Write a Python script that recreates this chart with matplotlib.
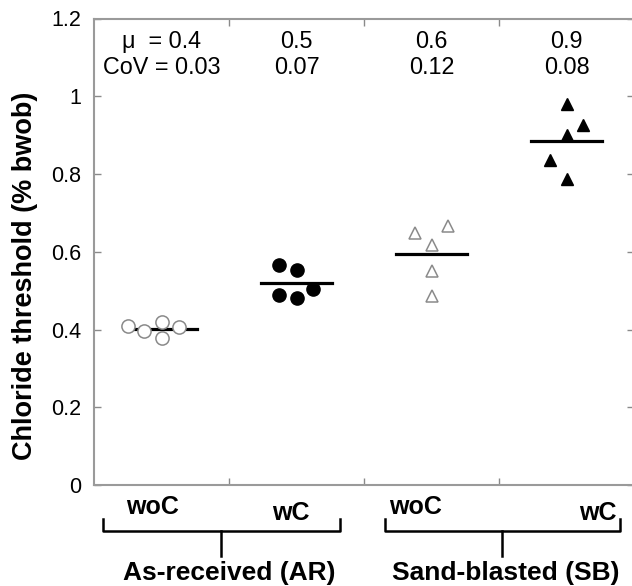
import matplotlib.pyplot as plt
from matplotlib.transforms import blended_transform_factory

plt.rcParams['font.family'] = ['Liberation Sans', 'DejaVu Sans']

# chloride threshold values (% bwob), five specimens per group
ar_woc = [0.409, 0.396, 0.420, 0.379, 0.407]
ar_wc = [0.565, 0.554, 0.490, 0.482, 0.503]
sb_woc = [0.647, 0.665, 0.617, 0.551, 0.486]
sb_wc = [0.981, 0.925, 0.901, 0.837, 0.786]

# horizontal jitter of points inside each group
ar_woc_dx = [-0.25, -0.13, 0.0, 0.0, 0.13]
ar_wc_dx = [-0.13, 0.0, -0.13, 0.0, 0.12]
sb_woc_dx = [-0.125, 0.125, 0.0, 0.0, 0.0]
sb_wc_dx = [0.0, 0.125, 0.0, -0.125, 0.0]

mu_labels = ['\u03bc  = 0.4', '0.5', '0.6', '0.9']
cov_labels = ['CoV = 0.03', '0.07', '0.12', '0.08']
sub_labels = ['woC', 'wC', 'woC', 'wC']
group_labels = ['As-received (AR)', 'Sand-blasted (SB)']

fig = plt.figure(figsize=(6.32, 5.86), dpi=100)
ax = fig.add_axes([94 / 632, 101 / 586, 540 / 632, 466.5 / 586])

centers = [0.5, 1.5, 2.5, 3.5]
groups = [ar_woc, ar_wc, sb_woc, sb_wc]
offsets = [ar_woc_dx, ar_wc_dx, sb_woc_dx, sb_wc_dx]
styles = [
    dict(marker='o', mfc='white', mec='#8a8a8a', ms=9.5, mew=1.1),
    dict(marker='o', mfc='black', mec='black', ms=9.5, mew=1),
    dict(marker='^', mfc='white', mec='#8a8a8a', ms=9, mew=1.1),
    dict(marker='^', mfc='black', mec='black', ms=9, mew=1),
]

for c, vals, dx, st in zip(centers, groups, offsets, styles):
    xs = [c + d for d in dx]
    mean = sum(vals) / len(vals)
    ax.plot([c - 0.26, c + 0.26], [mean, mean], color='black', lw=2.3, zorder=2)
    ax.plot(xs, vals, ls='none', zorder=3, **st)

for c, m, cv in zip(centers, mu_labels, cov_labels):
    ax.text(c, 1.14, m, ha='center', va='center', fontsize=16.8)
    ax.text(c, 1.075, cv, ha='center', va='center', fontsize=16.8)

ax.set_xlim(0, 4)
ax.set_ylim(0, 1.2)
ax.set_xticks([1, 2, 3])
ax.set_xticklabels([])
ax.set_yticks([0, 0.2, 0.4, 0.6, 0.8, 1.0, 1.2])
ax.set_yticklabels(['0', '0.2', '0.4', '0.6', '0.8', '1', '1.2'])
ax.tick_params(direction='in', top=True, right=True, length=5, width=1,
               color='#8a8a8a', labelsize=15.5, pad=9)
for s in ax.spines.values():
    s.set_color('#9a9a9a')
    s.set_linewidth(1.5)

ax.set_ylabel('Chloride threshold (% bwob)', fontsize=19.5, fontweight='bold')
ax.yaxis.set_label_coords(-0.103, 0.448)

# labels and brackets below the axis
tr = blended_transform_factory(ax.transData, ax.transAxes)
sub_y = [-0.047, -0.06, -0.047, -0.06]
sub_x = [0.43, 1.46, 2.385, 3.733]
for x, y, s in zip(sub_x, sub_y, sub_labels):
    ax.text(x, y, s, transform=tr, ha='center', va='center',
            fontsize=18, fontweight='bold')

brackets = [(0.067, 1.82), (2.154, 3.896)]
label_x = [1.0, 3.05]
for (x0, x1), lab, lx in zip(brackets, group_labels, label_x):
    xm = (x0 + x1) / 2
    ax.plot([x0, x0, x1, x1], [-0.073, -0.098, -0.098, -0.073], transform=tr,
            color='black', lw=1.8, clip_on=False)
    ax.plot([xm, xm], [-0.098, -0.152], transform=tr, color='black', lw=1.8,
            clip_on=False)
    ax.text(lx, -0.2035, lab, transform=tr, ha='center', va='baseline',
            fontsize=19, fontweight='bold')

fig.savefig('out.png', dpi=100)
